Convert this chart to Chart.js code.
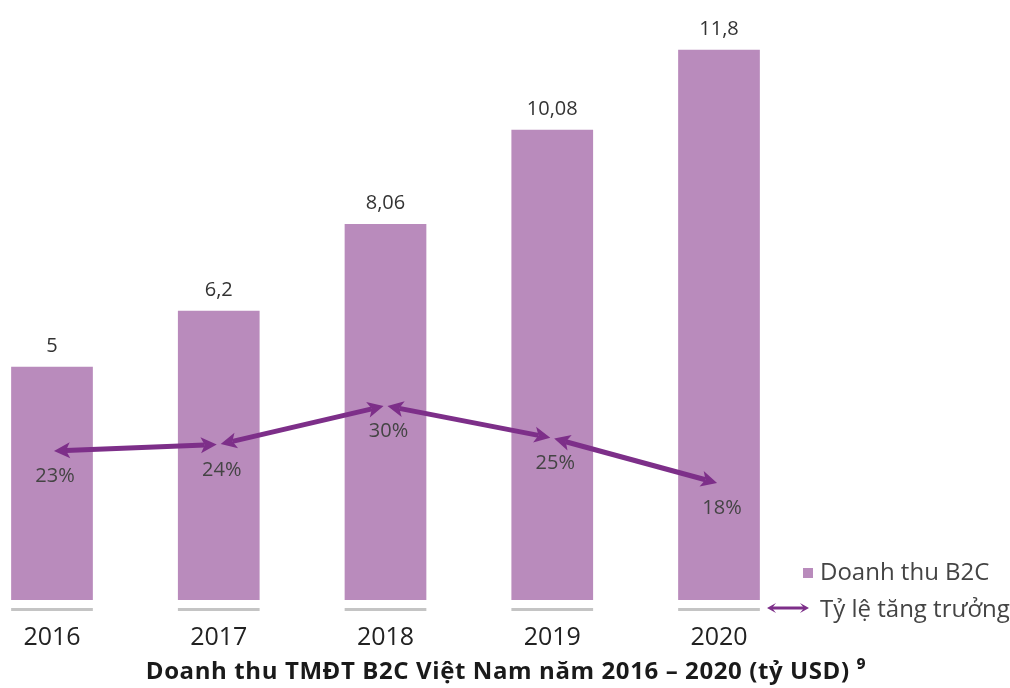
<!DOCTYPE html>
<html>
<head>
<meta charset="utf-8">
<script src="https://cdn.jsdelivr.net/npm/chart.js@4"></script>
<style>
  body { margin: 0; background: #fff; }
</style>
</head>
<body>
<canvas id="b2cChart" width="1010" height="688"></canvas>
<script>
const years = ['2016', '2017', '2018', '2019', '2020'];
const revenue = [5, 6.2, 8.06, 10.08, 11.8];
const revenueLabels = ['5', '6,2', '8,06', '10,08', '11,8'];
const growth = [23, 24, 30, 25, 18];
const growthLabels = ['23%', '24%', '30%', '25%', '18%'];
const legendLabels = ['Doanh thu B2C', 'Tỷ lệ tăng trưởng'];
const titleText = 'Doanh thu TMĐT B2C Việt Nam năm 2016 – 2020 (tỷ USD) ⁹';

const barColor = '#b98bbc';
const lineColor = '#7d2f89';
const fontName = '"Open Sans", sans-serif';

// arrow with heads at both ends, like in the original figure
function doubleArrow(ctx, x1, y1, x2, y2, gap, len, half) {
    const dx = x2 - x1, dy = y2 - y1;
    const d = Math.hypot(dx, dy);
    const ux = dx / d, uy = dy / d;
    const nx = -uy, ny = ux;
    const ax = x1 + ux * gap, ay = y1 + uy * gap;
    const bx = x2 - ux * gap, by = y2 - uy * gap;

    ctx.beginPath();
    ctx.moveTo(ax + ux * (len - 4), ay + uy * (len - 4));
    ctx.lineTo(bx - ux * (len - 4), by - uy * (len - 4));
    ctx.stroke();

    [[ax, ay, 1], [bx, by, -1]].forEach(([tx, ty, s]) => {
        const backX = tx + s * ux * len, backY = ty + s * uy * len;
        const notchX = tx + s * ux * (len - 4), notchY = ty + s * uy * (len - 4);
        ctx.beginPath();
        ctx.moveTo(tx, ty);
        ctx.lineTo(backX + nx * half, backY + ny * half);
        ctx.lineTo(notchX, notchY);
        ctx.lineTo(backX - nx * half, backY - ny * half);
        ctx.closePath();
        ctx.fill();
    });
}

const decorPlugin = {
    id: 'decor',
    afterDatasetsDraw(chart) {
        const ctx = chart.ctx;
        const bars = chart.getDatasetMeta(0).data;
        const pts = chart.getDatasetMeta(1).data;
        ctx.save();

        // grey foot under every bar
        ctx.fillStyle = '#c4c4c4';
        bars.forEach(bar => {
            ctx.fillRect(bar.x - bar.width / 2, bar.base + 8, bar.width, 3);
        });

        // values over the bars
        ctx.font = '20px ' + fontName;
        ctx.fillStyle = '#333';
        ctx.textAlign = 'center';
        ctx.textBaseline = 'alphabetic';
        bars.forEach((bar, i) => {
            ctx.fillText(revenueLabels[i], bar.x, bar.y - 15);
        });

        // growth line
        ctx.strokeStyle = lineColor;
        ctx.fillStyle = lineColor;
        ctx.lineWidth = 5;
        for (let i = 0; i < pts.length - 1; i++) {
            doubleArrow(ctx, pts[i].x, pts[i].y, pts[i + 1].x, pts[i + 1].y, 2, 16, 8);
        }

        ctx.fillStyle = '#444';
        pts.forEach((p, i) => {
            ctx.fillText(growthLabels[i], p.x + 3, p.y + 31);
        });
        ctx.restore();
    },
    afterDraw(chart) {
        const ctx = chart.ctx;
        ctx.save();

        // legend
        ctx.fillStyle = barColor;
        ctx.fillRect(803, 568, 10, 10);
        ctx.strokeStyle = lineColor;
        ctx.fillStyle = lineColor;
        ctx.lineWidth = 3;
        doubleArrow(ctx, 767, 608, 809, 608, 0, 9, 5);

        ctx.font = '24px ' + fontName;
        ctx.fillStyle = '#444';
        ctx.textAlign = 'left';
        ctx.textBaseline = 'alphabetic';
        ctx.fillText(legendLabels[0], 820, 580);
        ctx.fillText(legendLabels[1], 820, 617);

        // caption under the chart
        ctx.font = 'bold 24px ' + fontName;
        ctx.letterSpacing = '0.6px';
        ctx.fillStyle = '#1a1a1a';
        ctx.textAlign = 'center';
        ctx.fillText(titleText, 506, 679);
        ctx.restore();
    }
};

const ctx = document.getElementById('b2cChart').getContext('2d');
const b2cChart = new Chart(ctx, {
    type: 'bar',
    data: {
        labels: years,
        datasets: [{
            label: legendLabels[0],
            data: revenue,
            backgroundColor: barColor,
            borderWidth: 0,
            barPercentage: 1,
            categoryPercentage: 0.49,
            clip: false,
            yAxisID: 'y',
            order: 2
        }, {
            type: 'line',
            label: legendLabels[1],
            data: growth,
            borderColor: lineColor,
            showLine: false,
            pointRadius: 0,
            clip: false,
            yAxisID: 'y2',
            order: 1
        }]
    },
    options: {
        responsive: false,
        animation: false,
        layout: {
            padding: { top: 17, left: 52, right: 291, bottom: 12 }
        },
        plugins: {
            legend: { display: false },
            tooltip: { enabled: false }
        },
        scales: {
            x: {
                offset: false,
                grid: { display: false, drawTicks: false },
                border: { display: false },
                ticks: {
                    padding: 23,
                    color: '#222',
                    font: { family: 'Open Sans', size: 25 }
                }
            },
            y: { display: false, min: 0, max: 12.5 },
            y2: { display: false, min: 0, max: 90 }
        }
    },
    plugins: [decorPlugin]
});
</script>
</body>
</html>
